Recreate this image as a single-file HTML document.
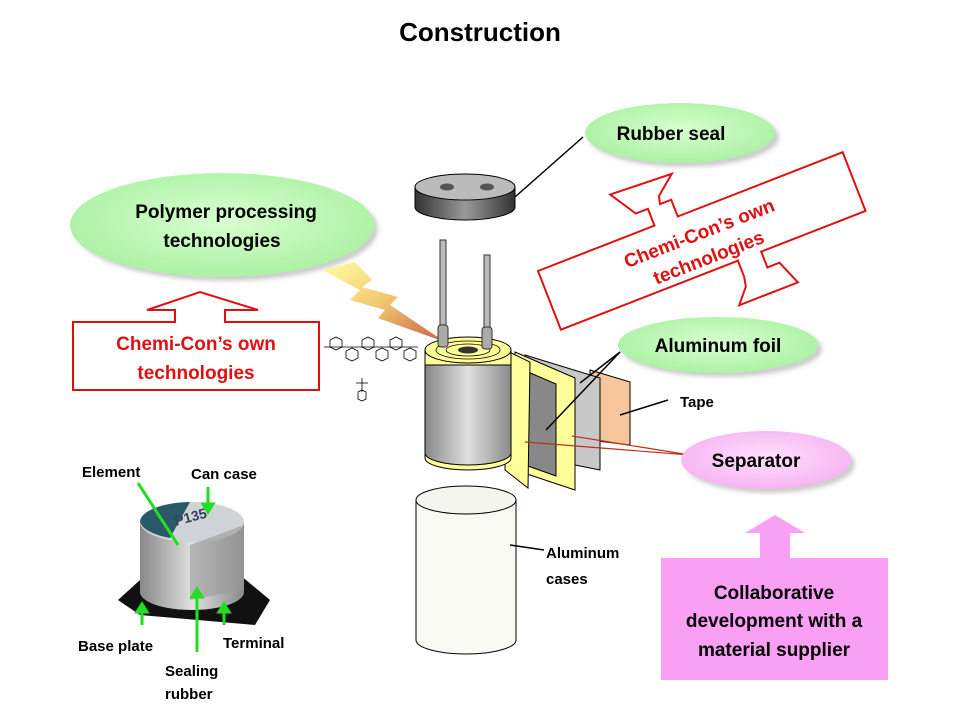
<!DOCTYPE html>
<html><head><meta charset="utf-8"><style>
body{margin:0;width:960px;height:720px;background:#fff;overflow:hidden}
svg text{font-family:"Liberation Sans",sans-serif;font-weight:bold}
</style></head><body>
<svg width="960" height="720" viewBox="0 0 960 720" xmlns="http://www.w3.org/2000/svg">
<defs>
<radialGradient id="gr" cx="50%" cy="45%" r="60%"><stop offset="0" stop-color="#d8ffd0"/><stop offset="1" stop-color="#a8f0a0"/></radialGradient>
<radialGradient id="pk" cx="50%" cy="45%" r="60%"><stop offset="0" stop-color="#ffe0ff"/><stop offset="1" stop-color="#f6b0f0"/></radialGradient>
<linearGradient id="cyl" x1="0" x2="1"><stop offset="0" stop-color="#555"/><stop offset="0.5" stop-color="#ccc"/><stop offset="1" stop-color="#666"/></linearGradient>
<linearGradient id="cyl2" x1="0" x2="1"><stop offset="0" stop-color="#333"/><stop offset="0.5" stop-color="#999"/><stop offset="1" stop-color="#333"/></linearGradient>
<linearGradient id="bolt" x1="0" y1="0" x2="1" y2="1"><stop offset="0" stop-color="#ffff99"/><stop offset="0.5" stop-color="#f0c060"/><stop offset="1" stop-color="#c05030"/></linearGradient>
<linearGradient id="cap" x1="0" x2="1"><stop offset="0" stop-color="#888"/><stop offset="0.5" stop-color="#e0e0e0"/><stop offset="1" stop-color="#8a8a8a"/></linearGradient>
<filter id="sh"><feDropShadow dx="4" dy="4" stdDeviation="2" flood-color="#aaa" flood-opacity="0.6"/></filter>
</defs>

<text x="480" y="41" font-size="26" text-anchor="middle" fill="#000">Construction</text>

<!-- Rubber seal -->
<ellipse cx="680" cy="133" rx="95" ry="30" fill="url(#gr)" filter="url(#sh)"/>
<text x="671" y="140" font-size="19" text-anchor="middle">Rubber seal</text>
<line x1="583" y1="137" x2="515" y2="197" stroke="#000" stroke-width="1.5"/>
<path d="M415 187 v20 a50 13 0 0 0 100 0 v-20 z" fill="url(#cyl2)" stroke="#000"/>
<ellipse cx="465" cy="187" rx="50" ry="13" fill="#bbb" stroke="#000"/>
<ellipse cx="447" cy="187" rx="7" ry="3.5" fill="#555"/>
<ellipse cx="487" cy="187" rx="7" ry="3.5" fill="#555"/>

<!-- Polymer -->
<ellipse cx="222" cy="225" rx="152" ry="52" fill="url(#gr)" filter="url(#sh)"/>
<text x="226" y="218" font-size="19" text-anchor="middle">Polymer processing</text>
<text x="222" y="247" font-size="19" text-anchor="middle">technologies</text>

<!-- red box left -->
<polygon points="73,322 175,322 175,310 147,310 200,292 258,310 225,310 225,322 319,322 319,390 73,390" fill="#fff" stroke="#e01010" stroke-width="2"/>
<text x="196" y="350" font-size="19" fill="#e01010" text-anchor="middle">Chemi-Con’s own</text>
<text x="196" y="379" font-size="19" fill="#e01010" text-anchor="middle">technologies</text>

<!-- lightning -->
<polygon points="322,270 355,262 372,280 362,287 398,297 390,305 445,342 378,318 385,310 350,300 360,290" fill="url(#bolt)" opacity="0.9"/>

<!-- molecule -->
<g stroke="#000" stroke-width="0.8" fill="none">
<polygon points="330,340 336,337 342,340 342,347 336,350 330,347"/>
<polygon points="346,351 352,348 358,351 358,358 352,361 346,358"/>
<polygon points="362,340 368,337 374,340 374,347 368,350 362,347"/>
<polygon points="376,351 382,348 388,351 388,358 382,361 376,358"/>
<polygon points="390,340 396,337 402,340 402,347 396,350 390,347"/>
<polygon points="404,351 410,348 416,351 416,358 410,361 404,358"/>
<line x1="324" y1="347" x2="418" y2="347"/>
<line x1="362" y1="378" x2="362" y2="392"/>
<polygon points="358,392 362,390 366,392 366,399 362,401 358,399"/>
<line x1="356" y1="383" x2="368" y2="383"/>
</g>

<!-- leads -->
<rect x="440" y="240" width="6" height="85" fill="#bbb" stroke="#333"/>
<rect x="484" y="255" width="6" height="72" fill="#bbb" stroke="#333"/>

<!-- foils -->
<polygon points="590,370 630,382 630,445 590,440" fill="#f7c79b" stroke="#000"/>
<polygon points="525,355 600,378 600,470 525,455" fill="#c8c8c8" stroke="#000"/>
<polygon points="515,352 575,378 575,490 515,470" fill="#ffff99" stroke="#000"/>
<polygon points="528,372 556,384 556,476 528,466" fill="#888" stroke="#000"/>
<polygon points="505,350 530,362 528,488 505,470" fill="#ffff99" stroke="#000"/>

<!-- element cylinder -->
<path d="M425 350 v108 a43 12 0 0 0 86 0 v-108 z" fill="#ffff99" stroke="#000"/>
<path d="M425 365 v88 a43 12 0 0 0 86 0 v-88 z" fill="url(#cap)" stroke="#000"/>
<ellipse cx="468" cy="350" rx="43" ry="13" fill="#ffff99" stroke="#000"/>
<ellipse cx="468" cy="350" rx="32" ry="9" fill="none" stroke="#000" stroke-width="0.8"/>
<ellipse cx="468" cy="350" rx="22" ry="6" fill="none" stroke="#000" stroke-width="0.8"/>
<ellipse cx="468" cy="350" rx="10" ry="3.5" fill="#333"/>
<rect x="438" y="325" width="10" height="22" fill="#aaa" stroke="#333" rx="3"/>
<rect x="482" y="327" width="10" height="22" fill="#aaa" stroke="#333" rx="3"/>

<!-- aluminum foil label -->
<ellipse cx="718" cy="345" rx="100" ry="28" fill="url(#gr)" filter="url(#sh)"/>
<text x="718" y="352" font-size="19" text-anchor="middle">Aluminum foil</text>
<line x1="620" y1="352" x2="580" y2="383" stroke="#000" stroke-width="1.5"/>
<line x1="620" y1="352" x2="546" y2="430" stroke="#000" stroke-width="1.5"/>
<line x1="620" y1="415" x2="668" y2="400" stroke="#000" stroke-width="1.5"/>
<text x="680" y="407" font-size="15">Tape</text>

<!-- separator -->
<line x1="525" y1="442" x2="690" y2="455" stroke="#c03020" stroke-width="1.2"/>
<line x1="572" y1="436" x2="690" y2="455" stroke="#c03020" stroke-width="1.2"/>
<ellipse cx="766" cy="460" rx="85" ry="29" fill="url(#pk)" filter="url(#sh)"/>
<text x="756" y="467" font-size="19" text-anchor="middle">Separator</text>

<!-- rotated red arrow box -->
<g transform="translate(538,271) rotate(-21.3)" fill="#fff" stroke="#e01010" stroke-width="2">
<polygon points="0,0 125,0 125,-18 112,-18 95,-45 160,-42 140,-26 138,-18 150,-18 150,0 327,0 327,63 215,63 215,80 228,80 238,105 175,105 188,90 190,80 190,63 0,63"/>
</g>
<g transform="translate(703,243) rotate(-21.3)" fill="#e01010" font-size="19" text-anchor="middle">
<text x="0" y="-4" font-family="Liberation Sans" font-weight="bold">Chemi-Con’s own</text>
<text x="0" y="22" font-family="Liberation Sans" font-weight="bold">technologies</text>
</g>

<!-- aluminum case -->
<path d="M416 500 v140 a50 14 0 0 0 100 0 v-140 z" fill="#fafaf5" stroke="#000"/>
<ellipse cx="466" cy="500" rx="50" ry="14" fill="#f5f5f0" stroke="#000"/>
<line x1="510" y1="545" x2="544" y2="550" stroke="#000" stroke-width="1.5"/>
<text x="546" y="558" font-size="15">Aluminum</text>
<text x="546" y="584" font-size="15">cases</text>

<!-- pink -->
<polygon points="760,558 760,533 745,533 775,515 805,533 790,533 790,558" fill="#f9a0f5"/>
<rect x="661" y="558" width="227" height="122" fill="#f9a0f5"/>
<text x="774" y="599" font-size="19" text-anchor="middle">Collaborative</text>
<text x="774" y="627" font-size="19" text-anchor="middle">development with a</text>
<text x="774" y="656" font-size="19" text-anchor="middle">material supplier</text>

<!-- photo capacitor -->
<polygon points="118,600 140,580 240,575 270,600 255,625 140,615" fill="#111"/>
<path d="M140 522 v70 a52 18 0 0 0 104 0 v-70 z" fill="url(#cap)"/>
<ellipse cx="192" cy="522" rx="52" ry="20" fill="#d0d4d8"/>
<path d="M140 522 a52 20 0 0 1 50 -20 l-20 36 a52 20 0 0 1 -30 -16z" fill="#2a5a6a"/>
<polygon points="190,545 244,525 244,590 190,600" fill="#999" opacity="0.6"/>
<text x="175" y="522" font-size="14" fill="#345" font-weight="normal" transform="rotate(-15 190 520)">P135</text>
<g stroke="#22dd22" stroke-width="3" fill="#22dd22">
<line x1="138" y1="483" x2="178" y2="545"/>
<line x1="208" y1="487" x2="208" y2="506"/><polygon points="203,504 213,504 208,512"/>
<line x1="142" y1="625" x2="142" y2="610"/><polygon points="137,612 147,612 142,604"/>
<line x1="197" y1="652" x2="197" y2="594"/><polygon points="192,597 202,597 197,589"/>
<line x1="224" y1="625" x2="224" y2="610"/><polygon points="219,612 229,612 224,604"/>
</g>
<text x="82" y="477" font-size="15">Element</text>
<text x="191" y="479" font-size="15">Can case</text>
<text x="78" y="651" font-size="15">Base plate</text>
<text x="223" y="648" font-size="15">Terminal</text>
<text x="165" y="676" font-size="15">Sealing</text>
<text x="165" y="699" font-size="15">rubber</text>
</svg>
</body></html>
